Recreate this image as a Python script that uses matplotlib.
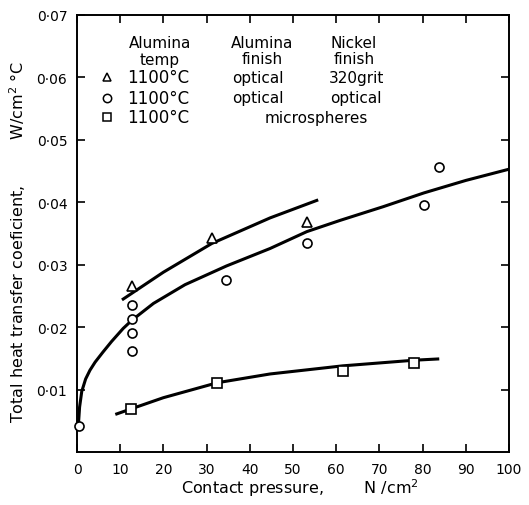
import matplotlib
matplotlib.use("Agg")
import matplotlib.pyplot as plt

# Measured points
tri_x = [12.7, 31.2, 53.2]
tri_y = [0.0266, 0.0343, 0.0368]
circ_x = [0.5, 12.8, 12.8, 12.8, 12.8, 34.5, 53.2, 80.3, 83.9]
circ_y = [0.0041, 0.0235, 0.0213, 0.0191, 0.0162, 0.0276, 0.0335, 0.0395, 0.0456]
sq_x = [12.5, 32.5, 61.5, 78.0]
sq_y = [0.0069, 0.0111, 0.0130, 0.0142]

# Drawn curves
tri_curve_x = [10.7, 20.0, 31.2, 44.7, 55.5]
tri_curve_y = [0.0245, 0.0288, 0.0334, 0.0375, 0.0403]
circ_curve_x = [0.3, 0.6, 1.1, 2.0, 3.0, 4.2, 6.0, 8.0, 10.7, 12.7, 17.7, 25.0,
                34.6, 44.7, 53.2, 60.9, 70.9, 80.3, 90.0, 100.0]
circ_curve_y = [0.0041, 0.0072, 0.0097, 0.0117, 0.0131, 0.0144, 0.0160, 0.0177,
                0.0198, 0.0211, 0.0238, 0.0268, 0.0298, 0.0326, 0.0353, 0.0371,
                0.0393, 0.0415, 0.0435, 0.0453]
sq_curve_x = [9.2, 12.5, 20.0, 32.5, 44.7, 61.5, 78.0, 83.5]
sq_curve_y = [0.0061, 0.0069, 0.0087, 0.0111, 0.0125, 0.0138, 0.0147, 0.0149]

x_ticks = [0, 10, 20, 30, 40, 50, 60, 70, 80, 90, 100]
y_ticks = [0.01, 0.02, 0.03, 0.04, 0.05, 0.06, 0.07]
y_tick_labels = ["0·01", "0·02", "0·03", "0·04", "0·05", "0·06", "0·07"]

legend_rows = [("^", "1100°C", "optical", "320grit"),
               ("o", "1100°C", "optical", "optical"),
               ("s", "1100°C", "microspheres", None)]

plt.rcParams['font.family'] = ['DejaVu Sans']
fig = plt.figure(figsize=(5.29, 5.06), dpi=100)
W, H = 529, 506
ax = fig.add_axes([77 / W, 1 - 453 / H, (509 - 77) / W, (453 - 16) / H])

lw = 2.2
ax.plot(tri_curve_x, tri_curve_y, color="black", lw=lw, zorder=2)
ax.plot(circ_curve_x, circ_curve_y, color="black", lw=lw, zorder=2)
ax.plot(sq_curve_x, sq_curve_y, color="black", lw=lw, zorder=2)

mk = dict(linestyle="none", markerfacecolor="white", markeredgecolor="black",
          markeredgewidth=1.2, zorder=3, clip_on=False)
ax.plot(tri_x, tri_y, marker="^", markersize=7, **mk)
ax.plot(circ_x, circ_y, marker="o", markersize=6.5, **mk)
ax.plot(sq_x, sq_y, marker="s", markersize=7, **mk)

ax.set_xlim(0, 100)
ax.set_ylim(0, 0.07)
ax.set_xticks(x_ticks)
ax.set_xticklabels([str(v) for v in x_ticks], fontsize=10)
ax.set_yticks(y_ticks)
ax.set_yticklabels(y_tick_labels, fontsize=10)
ax.tick_params(direction="in", length=6, width=1.2, top=True, right=True,
               labeltop=False, labelright=False, pad=7)
for s in ax.spines.values():
    s.set_linewidth(1.4)

def fx(px):
    return px / W

def fy(py):
    return 1 - py / H

fig.text(fx(300), fy(488), "Contact pressure,        N /cm$^2$", ha="center", va="center",
         fontsize=11.5)
fig.text(fx(18), fy(242), "Total heat transfer coeficient,         W/cm$^2$ °C",
         ha="center", va="center", rotation=90, fontsize=11.5)

# Legend table
fs_h = 11
fs_r = 12
fig.text(fx(160), fy(43), "Alumina", ha="center", va="center", fontsize=fs_h)
fig.text(fx(160), fy(60), "temp", ha="center", va="center", fontsize=fs_h)
fig.text(fx(262), fy(43), "Alumina", ha="center", va="center", fontsize=fs_h)
fig.text(fx(262), fy(60), "finish", ha="center", va="center", fontsize=fs_h)
fig.text(fx(354), fy(43), "Nickel", ha="center", va="center", fontsize=fs_h)
fig.text(fx(354), fy(60), "finish", ha="center", va="center", fontsize=fs_h)

row_y = [78, 99, 118]
for (m, temp, af, nf), ry in zip(legend_rows, row_y):
    fig.lines.append(plt.Line2D([fx(107)], [fy(ry)], marker=m, markersize=6,
                                markerfacecolor="white", markeredgecolor="black",
                                markeredgewidth=1.1, linestyle="none",
                                transform=fig.transFigure))
    fig.text(fx(158), fy(ry), temp, ha="center", va="center", fontsize=fs_r)
    if nf is None:
        fig.text(fx(316), fy(ry), af, ha="center", va="center", fontsize=fs_h)
    else:
        fig.text(fx(258), fy(ry), af, ha="center", va="center", fontsize=fs_h)
        fig.text(fx(356), fy(ry), nf, ha="center", va="center", fontsize=fs_h)

fig.savefig("out.png", dpi=100)
